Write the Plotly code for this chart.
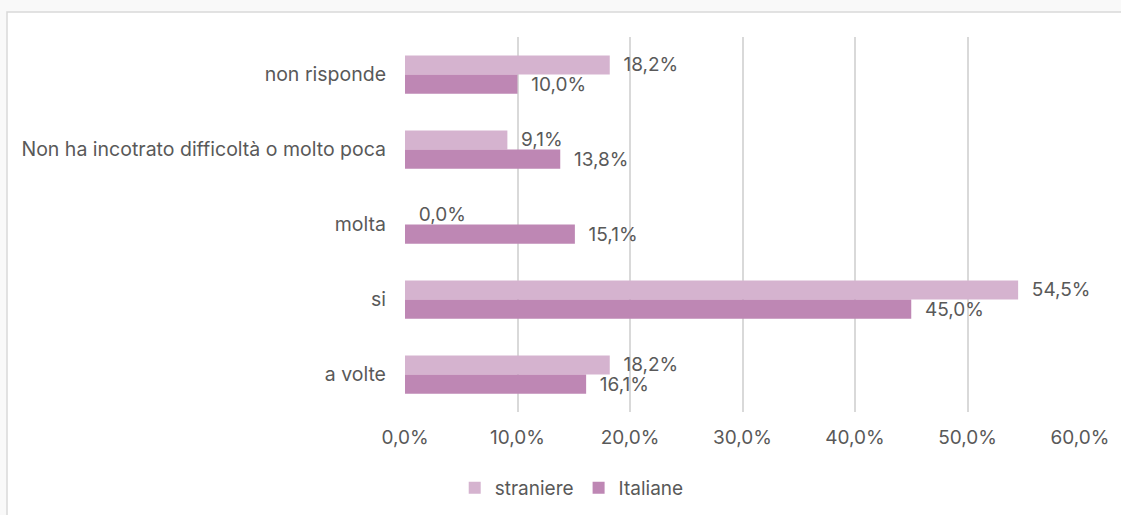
import plotly.graph_objects as go

categories = ["non risponde", "Non ha incotrato difficoltà o molto poca", "molta", "si", "a volte"]
straniere = [0.182, 0.091, 0.0, 0.545, 0.182]
italiane = [0.100, 0.138, 0.151, 0.450, 0.161]
x_ticks = [0, 0.1, 0.2, 0.3, 0.4, 0.5, 0.6]

FONT = "Inter, Liberation Sans, Arial, sans-serif"
TXT = "#595959"
FS = 19

fig = go.Figure()
fig.add_trace(go.Bar(
    y=categories, x=straniere, orientation="h", name="straniere",
    marker=dict(color="#d5b3cf", line=dict(width=0)),
    texttemplate="  %{x:.1%}", textposition="outside", cliponaxis=False,
    constraintext="none",
    textfont=dict(size=FS, color=TXT, family=FONT),
))
fig.add_trace(go.Bar(
    y=categories, x=italiane, orientation="h", name="Italiane",
    marker=dict(color="#be87b4", line=dict(width=0)),
    texttemplate="  %{x:.1%}", textposition="outside", cliponaxis=False,
    constraintext="none",
    textfont=dict(size=FS, color=TXT, family=FONT),
))

pl, pr, pt, pb = 405, 1080, 37, 412
W, H = 1121, 515
pw, ph = pr - pl, pb - pt

fig.update_layout(
    width=W, height=H,
    margin=dict(l=pl, r=W - pr, t=pt, b=H - pb, pad=0),
    barmode="group", bargap=0.49, bargroupgap=0,
    separators=",.",
    paper_bgcolor="#f9f9f9", plot_bgcolor="white",
    font=dict(family=FONT, size=FS, color=TXT),
    showlegend=True,
    legend=dict(orientation="h", xref="container", yref="container",
                x=0.51, xanchor="center", y=1 - 488 / H, yanchor="middle",
                font=dict(size=FS, color=TXT, family=FONT), bgcolor="rgba(0,0,0,0)",
                itemwidth=30),
    hovermode=False,
    shapes=[dict(type="rect", xref="paper", yref="paper", layer="below",
                 x0=(7 - pl) / pw, x1=(W + 5 - pl) / pw,
                 y0=(pb - (H + 5)) / ph, y1=(pb - 12) / ph,
                 fillcolor="white", line=dict(color="#d9d9d9", width=1.5))],
)
fig.update_xaxes(range=[0, 0.6], tickvals=x_ticks, tickformat=".1%",
                 showgrid=True, gridcolor="#d9d9d9", gridwidth=2,
                 zeroline=False, showline=False, ticks="", ticklabelstandoff=12,
                 tickfont=dict(size=FS, color=TXT, family=FONT), fixedrange=True)
fig.update_yaxes(categoryorder="array", categoryarray=categories, autorange="reversed",
                 showgrid=False, zeroline=False, showline=False, ticks="",
                 ticklabelstandoff=18, tickfont=dict(size=FS + 0.5, color=TXT, family=FONT),
                 fixedrange=True)

fig.write_html("out.html", config={"displayModeBar": False})
